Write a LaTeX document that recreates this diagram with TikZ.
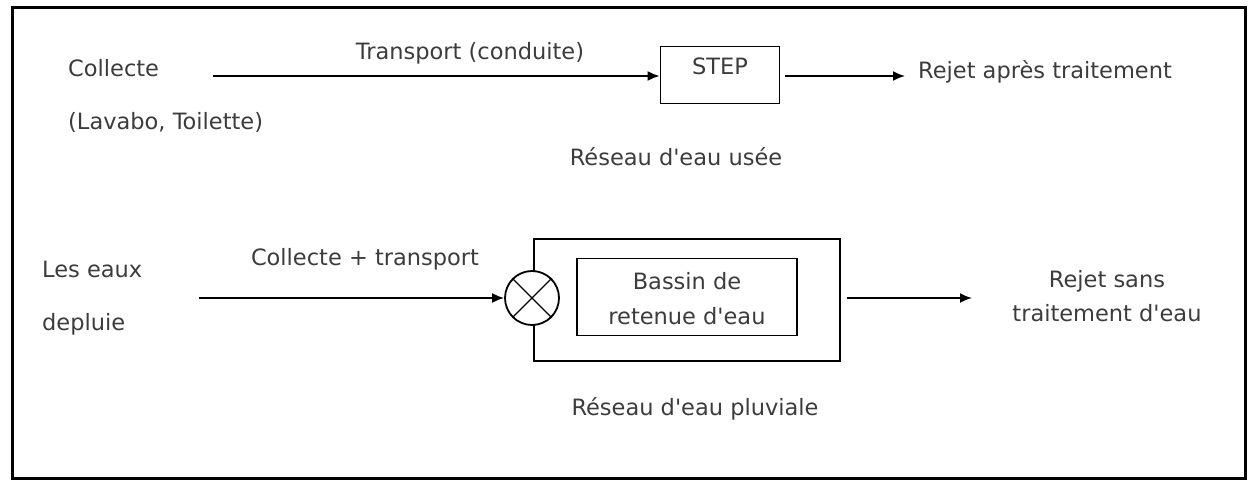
\documentclass[tikz,border=0pt]{standalone}
\usepackage{fontspec}
\setmainfont{DejaVu Sans}[Ligatures=TeXOff]
\usetikzlibrary{arrows.meta}

\definecolor{txtgray}{RGB}{60,60,60}

\tikzset{
  lbl/.style={text=txtgray, inner sep=0pt, font=\fontsize{22.5}{27}\selectfont},
  flow/.style={line width=1.8pt, -{Latex[length=12pt,width=10pt]}},
  boxline/.style={draw, line width=1.8pt}
}

\begin{document}
\begin{tikzpicture}[x=1pt, y=-1pt]

\useasboundingbox (0,0) rectangle (1251,481);
\draw [line width=3pt] (12,8) rectangle (1245,478);

% reseau d'eau usee
\node [lbl, anchor=west] (collecte) at (68,68) {Collecte};
\node [lbl, anchor=west] (lavabo) at (68,122) {(Lavabo, Toilette)};
\coordinate (usedeb) at (213,76);
\node [boxline, minimum width=119pt, minimum height=57pt] (step) at (720,75) {};
\node [lbl] (steptxt) at (720,66) {STEP};
\node [lbl] (transport) at (470,53) {Transport (conduite)};
\node [lbl, anchor=west] (rejet1) at (918,72) {Rejet après traitement};
\coordinate (usefin) at (785,76);
\node [lbl] (usee) at (676,157) {Réseau d'eau usée};

\draw [flow] (usedeb) -- (step.west |- usedeb);
\draw [flow] (usefin) -- (905,76);

% reseau d'eau pluviale
\node [lbl, anchor=west] (eaux) at (42,269) {Les eaux};
\node [lbl, anchor=west] (pluie) at (42,324) {depluie};
\node [lbl] (collectetr) at (365,259) {Collecte + transport};
\node [boxline, minimum width=306pt, minimum height=122pt] (outer) at (687,300) {};
\node [draw, line width=1.5pt, minimum width=220pt, minimum height=77pt] (bassin) at (687,297) {};
\node [lbl, align=center] (bassintxt) at (687,299) {Bassin de\\[8pt]retenue d'eau};
\node [draw, fill=white, line width=1.8pt, circle, minimum size=54pt] (mix) at (532,298) {};
\draw [line width=1.4pt] (mix.north west) -- (mix.south east);
\draw [line width=1.4pt] (mix.north east) -- (mix.south west);
\coordinate (pluvdeb) at (199,298);
\coordinate (pluvfin) at (847,298);
\node [lbl, align=center] (rejet2) at (1107,296) {Rejet sans\\[7pt]traitement d'eau};
\node [lbl] (pluviale) at (695,409) {Réseau d'eau pluviale};

\draw [flow] (pluvdeb) -- (mix.west);
\draw [flow] (pluvfin) -- (972,298);

\end{tikzpicture}
\end{document}
